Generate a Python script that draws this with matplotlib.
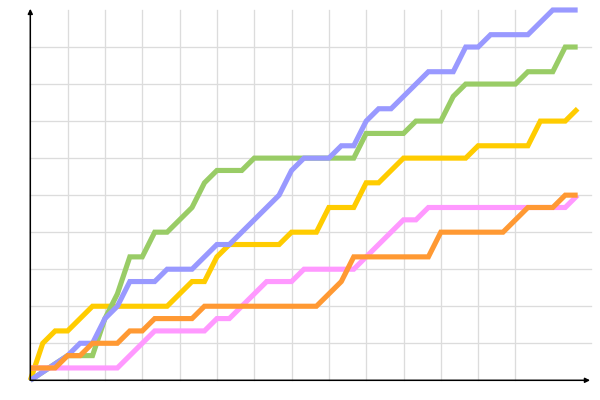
import matplotlib
matplotlib.use("Agg")
import matplotlib.pyplot as plt

# vertices (round, points)
yellow_x = [0, 1, 2, 3, 5, 11, 13, 14, 15, 16, 20, 21, 23, 24, 26, 27, 28, 30, 35, 36, 40, 41, 43, 44]
yellow_y = [0, 3, 4, 4, 6, 6, 8, 8, 10, 11, 11, 12, 12, 14, 14, 16, 16, 18, 18, 19, 19, 21, 21, 22]

green_x = [0, 3, 5, 6, 7, 8, 9, 10, 11, 12, 13, 14, 15, 17, 18, 26, 27, 30, 31, 33, 34, 35, 39, 40, 42, 43, 44]
green_y = [0, 2, 2, 5, 7, 10, 10, 12, 12, 13, 14, 16, 17, 17, 18, 18, 20, 20, 21, 21, 23, 24, 24, 25, 25, 27, 27]

blue_x = [0, 3, 4, 5, 6, 7, 8, 10, 11, 13, 14, 15, 16, 17, 18, 19, 20, 21, 22, 24, 25, 26, 27, 28, 29,
          30, 31, 32, 34, 35, 36, 37, 40, 41, 42, 44]
blue_y = [0, 2, 3, 3, 5, 6, 8, 8, 9, 9, 10, 11, 11, 12, 13, 14, 15, 17, 18, 18, 19, 19, 21, 22, 22,
          23, 24, 25, 25, 27, 27, 28, 28, 29, 30, 30]

pink_x = [0, 7, 10, 14, 15, 16, 17, 18, 19, 21, 22, 26, 27, 28, 29, 30, 31, 32, 43, 44]
pink_y = [1, 1, 4, 4, 5, 5, 6, 7, 8, 8, 9, 9, 10, 11, 12, 13, 13, 14, 14, 15]

orange_x = [0, 2, 3, 4, 5, 7, 8, 9, 10, 13, 14, 23, 24, 25, 26, 32, 33, 38, 39, 40, 42, 43, 44]
orange_y = [1, 1, 2, 2, 3, 3, 4, 4, 5, 5, 6, 6, 7, 8, 10, 10, 12, 12, 13, 14, 14, 15, 15]

series = [
    (yellow_x, yellow_y, '#ffcc00'),
    (green_x, green_y, '#99cc66'),
    (blue_x, blue_y, '#9999ff'),
    (pink_x, pink_y, '#ff99ff'),
    (orange_x, orange_y, '#ff9933'),
]

fig = plt.figure(figsize=(6, 4), dpi=100)
ax = fig.add_axes([30.3 / 600, 19.7 / 400, 560.7 / 600, 370.3 / 400])
ax.set_xlim(0, 560.7 / 12.44)
ax.set_ylim(0, 30)
ax.axis('off')

# grid
for gx in range(3, 40, 3):
    ax.plot([gx, gx], [0, 30], color='#dcdcdc', lw=0.95, zorder=1, clip_on=False)
for gy in range(3, 30, 3):
    ax.plot([0, 45.07], [gy, gy], color='#dcdcdc', lw=0.95, zorder=1, clip_on=False)

for xs, ys, c in series:
    ax.plot(xs, ys, color=c, lw=3.7, solid_joinstyle='miter', solid_capstyle='butt',
            zorder=3, clip_on=False)

# axes with arrows
arrow = dict(arrowstyle='-|>', color='black', lw=1.1, mutation_scale=7, shrinkA=0, shrinkB=0)
ax.annotate('', xy=(0, 30.1), xytext=(0, 0), arrowprops=arrow, annotation_clip=False, zorder=5)
ax.annotate('', xy=(45.0, 0), xytext=(0, 0), arrowprops=arrow, annotation_clip=False, zorder=5)

fig.savefig('out.png', dpi=100)
